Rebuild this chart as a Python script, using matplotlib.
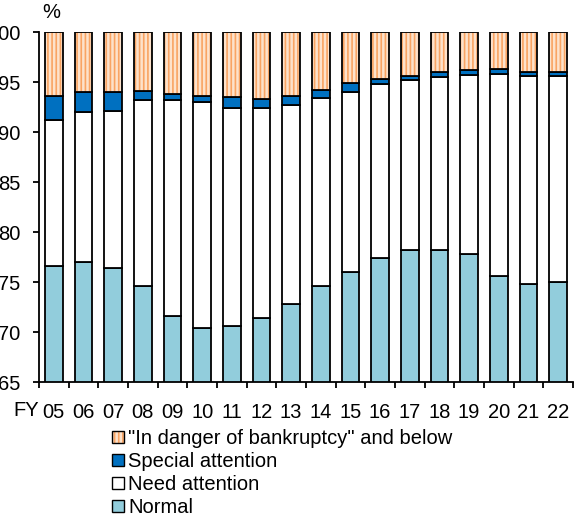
import numpy as np
import matplotlib
matplotlib.use("Agg")
import matplotlib.pyplot as plt
import matplotlib.patches as mpatches

plt.rcParams['font.family'] = ['Liberation Sans', 'DejaVu Sans']
plt.rcParams['hatch.linewidth'] = 1.2

# fiscal years and composition (%)
years = ['05', '06', '07', '08', '09', '10', '11', '12', '13', '14',
         '15', '16', '17', '18', '19', '20', '21', '22']
normal = [76.6, 77.0, 76.4, 74.6, 71.6, 70.4, 70.6, 71.4, 72.8, 74.6,
          76.0, 77.4, 78.2, 78.2, 77.8, 75.6, 74.8, 75.0]
need_attention = [14.6, 15.0, 15.7, 18.6, 21.6, 22.6, 21.8, 21.0, 19.9, 18.8,
                  18.0, 17.4, 17.0, 17.3, 17.9, 20.2, 20.8, 20.6]
special_attention = [2.4, 2.0, 1.9, 0.9, 0.6, 0.6, 1.1, 0.9, 0.9, 0.8,
                     0.9, 0.5, 0.4, 0.5, 0.5, 0.5, 0.4, 0.4]
danger = [6.4, 6.0, 6.0, 5.9, 6.2, 6.4, 6.5, 6.7, 6.4, 5.8,
          5.1, 4.7, 4.4, 4.0, 3.8, 3.7, 4.0, 4.0]

c_normal = '#92CDDC'
c_special = '#0070C0'
c_danger_bg = '#FDE2CB'
c_danger_line = '#F9A463'

fig = plt.figure(figsize=(5.77, 5.21), dpi=100)
ax = fig.add_axes([39 / 577, 1 - 382.3 / 521, 534 / 577, 350 / 521])

x = np.arange(len(years))
w = 0.6
lw = 1.3
normal = np.array(normal)
need_attention = np.array(need_attention)
special_attention = np.array(special_attention)
danger = np.array(danger)

b1 = normal
b2 = b1 + need_attention
b3 = b2 + special_attention

ax.bar(x, normal, w, bottom=0, color=c_normal, edgecolor='black', linewidth=lw)
ax.bar(x, need_attention, w, bottom=b1, color='white', edgecolor='black', linewidth=lw)
ax.bar(x, special_attention, w, bottom=b2, color=c_special, edgecolor='black', linewidth=lw)
ax.bar(x, danger, w, bottom=b3, color=c_danger_bg, edgecolor=c_danger_line,
       hatch='||||', linewidth=0)
ax.bar(x, danger, w, bottom=b3, fill=False, edgecolor='black', linewidth=lw)

ax.set_ylim(65, 100)
ax.set_xlim(-0.5, len(years) - 0.5)
ax.set_yticks(np.arange(65, 101, 5))
ax.set_yticklabels([str(v) for v in range(65, 101, 5)])
ax.set_xticks(x)
ax.set_xticklabels(years)
ax.set_xticks(np.arange(-0.5, len(years), 1), minor=True)
ax.tick_params(axis='x', which='major', length=0, labelsize=14.5, pad=15)
ax.tick_params(axis='x', which='minor', length=4, width=1.3, direction='out')
ax.tick_params(axis='y', length=4.3, width=1.3, direction='out', labelsize=14.5, pad=9)

for s in ['top', 'right']:
    ax.spines[s].set_visible(False)
for s in ['left', 'bottom']:
    ax.spines[s].set_linewidth(1.3)

fig.text(42 / 577, 1 - 13 / 521, '%', fontsize=14.5, va='center', ha='left')
fig.text(39 / 577, 1 - 410 / 521, 'FY', fontsize=14.5, va='center', ha='right')

h_danger = (mpatches.Patch(facecolor=c_danger_bg, edgecolor=c_danger_line, hatch='||||', linewidth=0),
            mpatches.Patch(fill=False, edgecolor='black', linewidth=1.0))
h_special = mpatches.Patch(facecolor=c_special, edgecolor='black', linewidth=1.0)
h_need = mpatches.Patch(facecolor='white', edgecolor='black', linewidth=1.0)
h_normal = mpatches.Patch(facecolor=c_normal, edgecolor='black', linewidth=1.0)

fig.legend([h_danger, h_special, h_need, h_normal],
           ['"In danger of bankruptcy" and below', 'Special attention',
            'Need attention', 'Normal'],
           loc='upper left', bbox_to_anchor=(112 / 577, 1 - 429 / 521),
           frameon=False, fontsize=14.5, handlelength=0.6, handleheight=0.6,
           handletextpad=0.2, labelspacing=0.2, borderpad=0, borderaxespad=0)

fig.savefig('out.png', dpi=100)
